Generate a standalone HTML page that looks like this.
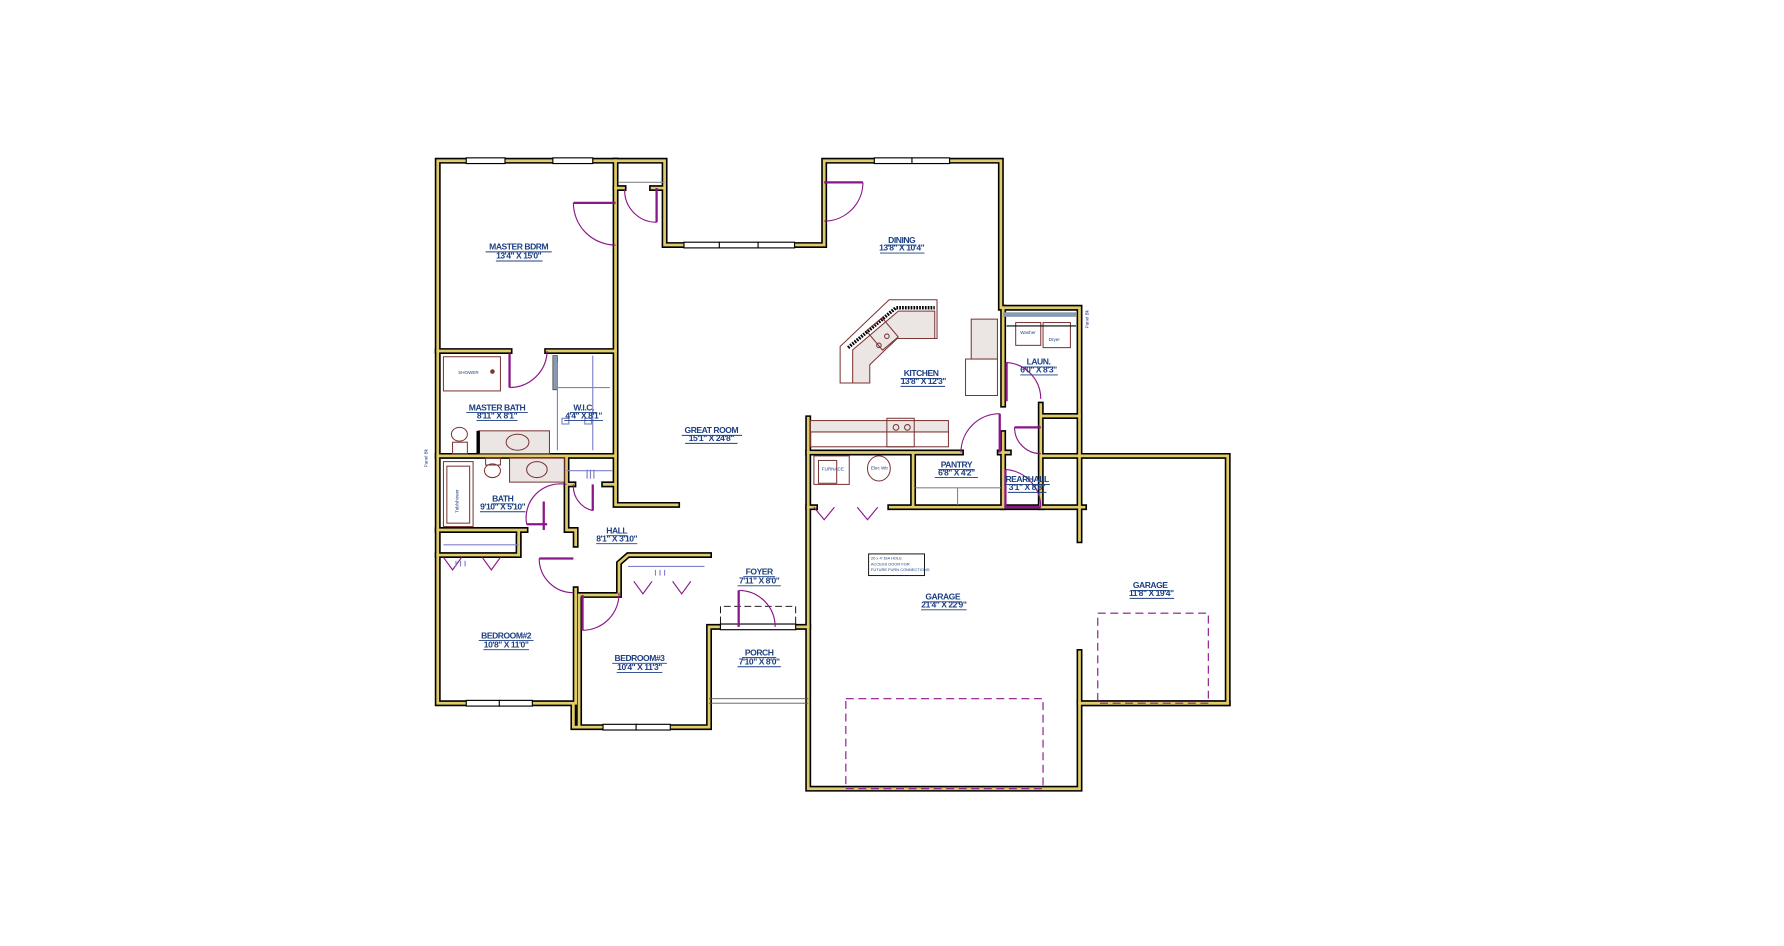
<!DOCTYPE html>
<html><head><meta charset="utf-8"><style>
html,body{margin:0;padding:0;background:#fff;}
svg{display:block;}
.w{fill:none;stroke:#000;stroke-width:5.2;stroke-linejoin:miter;stroke-linecap:square}
.y{fill:none;stroke:#e0cc6a;stroke-width:2.4;stroke-linejoin:miter;stroke-linecap:square}
.d{fill:none;stroke:#8a168a;stroke-width:1}
.dl{fill:none;stroke:#8a168a;stroke-width:2}
.f{fill:#ebe5e3;stroke:#7a3535;stroke-width:0.9}
.fo{fill:none;stroke:#7a3535;stroke-width:0.9}
.g{fill:none;stroke:#888;stroke-width:1}
.p{fill:none;stroke:#8080cc;stroke-width:1}
.t{font-family:"Liberation Sans",sans-serif;font-weight:bold;fill:#1c3f82;font-size:7.5px;text-anchor:middle;letter-spacing:-0.4px}
.s{font-family:"Liberation Sans",sans-serif;font-size:4px;fill:#1c3f82}
.u{stroke:#1c3f82;stroke-width:0.8}
.win{fill:#fff;stroke:#000;stroke-width:1}
</style></head><body>
<svg width="1784" height="946" viewBox="0 0 1565 830" preserveAspectRatio="none" xmlns="http://www.w3.org/2000/svg">
<rect width="1565" height="830" fill="#fff"/>
<g id="walls">
<path class="w" d="M540,141 H384 V617 H503 V638 H622 V550 H709"/>
<path class="w" d="M540,141 H583 V215 H723 V141 H878 V270 H947 V400 H1077 V617 H947 V692 H709 V367"/>
<path class="w" d="M540,141 V443 H594"/>
<path class="w" d="M540,165 H547 M572,165 H583"/>
<path class="w" d="M384,308 H447 M480,308 H540 M384,400 H540"/>
<path class="w" d="M497,400 V425 H503 M530,425 H540 M384,465 H461 M384,487 H455 V465"/>
<path class="w" d="M455,487 V472 M497,425 V465 H505 V478"/>
<path class="w" d="M505,517 V617 M508,522 V636 M508,522 H543 V494 L551,487 H622"/>
<path class="w" d="M709,397 H843 M877,397 H885 M801,397 V445 M709,445 H715 M781,445 H951"/>
<path class="w" d="M880,270 V355 M880,380 V445 M913,355 V365 H947 M913,365 V445 M913,400 H947"/>
<path class="w" d="M947,400 V474 M947,572 V617 M947,617 H1077"/>
<g>
<path class="y" d="M540,141 H384 V617 H503 V638 H622 V550 H709"/>
<path class="y" d="M540,141 H583 V215 H723 V141 H878 V270 H947 V400 H1077 V617 H947 V692 H709 V367"/>
<path class="y" d="M540,141 V443 H594"/>
<path class="y" d="M540,165 H547 M572,165 H583"/>
<path class="y" d="M384,308 H447 M480,308 H540 M384,400 H540"/>
<path class="y" d="M497,400 V425 H503 M530,425 H540 M384,465 H461 M384,487 H455 V465"/>
<path class="y" d="M455,487 V472 M497,425 V465 H505 V478"/>
<path class="y" d="M505,517 V617 M508,522 V636 M508,522 H543 V494 L551,487 H622"/>
<path class="y" d="M709,397 H843 M877,397 H885 M801,397 V445 M709,445 H715 M781,445 H951"/>
<path class="y" d="M880,270 V355 M880,380 V445 M913,355 V365 H947 M913,365 V445 M913,400 H947"/>
<path class="y" d="M947,400 V474 M947,572 V617 M947,617 H1077"/>
</g>
<rect x="485" y="312" width="4" height="30" fill="#8a9ab0" stroke="#333" stroke-width="0.6"/>
<rect x="880" y="274" width="64" height="4" fill="#8a9ab0"/>
</g>
<!-- windows -->
<rect class="win" x="409" y="138.5" width="34" height="5"/><rect class="win" x="485" y="138.5" width="35" height="5"/>
<rect class="win" x="767" y="138.5" width="66" height="5"/><line x1="800" y1="138" x2="800" y2="144" stroke="#000"/>
<rect class="win" x="600" y="212.5" width="97" height="5"/><line x1="631" y1="212" x2="631" y2="218" stroke="#000"/><line x1="665" y1="212" x2="665" y2="218" stroke="#000"/>
<rect class="win" x="409" y="614.5" width="58" height="5"/><line x1="438" y1="614" x2="438" y2="620" stroke="#000"/>
<rect class="win" x="529" y="635.5" width="59" height="5"/><line x1="558" y1="635" x2="558" y2="641" stroke="#000"/>
<rect class="win" x="632" y="547.5" width="66" height="5"/>
<path d="M632,547 V532 H698 V547" fill="none" stroke="#000" stroke-width="0.8" stroke-dasharray="6,3"/>
<!-- porch lines -->
<path d="M622,613 H709 M622,617 H709" stroke="#555" stroke-width="0.8"/>
<!-- closet shelf line -->
<path class="g" d="M543,160 H583"/>
<!-- doors -->
<path class="dl" d="M503,178 H540"/><path class="d" d="M503,178 A37,37 0 0 0 540,215"/>
<path class="dl" d="M576,165 V195"/><path class="d" d="M548,166 A28,28 0 0 0 576,195"/>
<path class="dl" d="M723,160 H757"/><path class="d" d="M757,160 A34,34 0 0 1 723,194"/>
<path class="dl" d="M447,310 V340"/><path class="d" d="M447,340 A33,33 0 0 0 480,308"/>
<path class="dl" d="M877,363 V397"/><path class="d" d="M843,397 A34,34 0 0 1 877,363"/>
<path class="dl" d="M883,318 V352"/><path class="d" d="M883,318 A32,32 0 0 1 913,350"/>
<path class="dl" d="M890,375 H913"/><path class="d" d="M890,375 A23,23 0 0 0 913,398"/>
<path class="dl" d="M882,412 V445 H913"/><path class="d" d="M882,412 A33,33 0 0 1 913,445"/>
<path class="dl" d="M477,440 V465"/><path class="d" d="M497,425 A30,30 0 0 0 462,460"/><path class="dl" d="M462,460 H480"/>
<path class="dl" d="M520,425 V448"/><path class="d" d="M503,425 A22,22 0 0 0 520,448"/>
<path class="dl" d="M473,490 H503"/><path class="d" d="M473,490 A30,30 0 0 0 503,520"/>
<path class="dl" d="M511,522 V553"/><path class="d" d="M511,553 A32,32 0 0 0 543,520"/>
<path class="dl" d="M648,518 V550"/><path class="d" d="M648,518 A32,32 0 0 1 680,550"/>
<!-- bifolds -->
<path class="d" d="M389,489 L397,500 L405,489 M423,489 L431,500 L439,489"/>
<path class="d" d="M556,510 L564,521 L572,510 M590,510 L598,521 L606,510"/>
<path class="d" d="M714,445 L723,456 L732,445 M752,445 L761,456 L770,445"/>
<path class="p" d="M389,478 H455 M551,497 H618 M497,413 H537 M489,340 H535 M489,318 V395 M520,312 V395"/>
<path class="p" d="M515,412 V420 M518,412 V420 M521,412 V420 M400,492 V497 M404,492 V497 M408,492 V497 M575,500 V505 M579,500 V505 M583,500 V505"/>
<!-- garage doors -->
<rect x="742" y="613" width="173" height="79" fill="none" stroke="#8a168a" stroke-width="1" stroke-dasharray="7,4"/>
<rect x="963" y="538" width="97" height="79" fill="none" stroke="#8a168a" stroke-width="1" stroke-dasharray="7,4"/>
<!-- kitchen -->
<path class="fo" d="M737,304 L780,263 H822 V297 H787 L760,322 V336 H737 Z"/>
<path d="M744,305 L786,270 H820" fill="none" stroke="#000" stroke-width="3" stroke-dasharray="1.5,1"/>
<path class="f" d="M748,307 L788,273 H820 V297 H787 L763,320 V336 H748 Z"/>
<rect class="fo" x="765" y="282" width="18" height="22" transform="rotate(-40 774 293)"/>
<circle class="fo" cx="778" cy="295" r="2"/><circle class="fo" cx="771" cy="303" r="2"/>
<rect class="f" x="852" y="280" width="23" height="35"/><rect class="fo" x="847" y="315" width="28" height="32"/>
<rect class="f" x="711" y="369" width="121" height="10"/><rect class="fo" x="711" y="379" width="121" height="13"/>
<rect class="fo" x="778" y="367" width="24" height="25"/><circle class="fo" cx="786" cy="375" r="2.5"/><circle class="fo" cx="796" cy="375" r="2.5"/>
<!-- laundry -->
<rect class="fo" x="891" y="283" width="22" height="20"/><rect class="fo" x="915" y="283" width="24" height="22"/>
<text class="s" x="895" y="293">Washer</text><text class="s" x="920" y="299">Dryer</text>
<line x1="883" y1="286" x2="944" y2="286" stroke="#000" stroke-width="1"/>
<!-- pantry / furnace -->
<path class="g" d="M803,428 H878 M840,428 V443"/>
<rect class="fo" x="714" y="400" width="31" height="25"/><rect class="fo" x="718" y="404" width="16" height="20"/>
<text class="s" x="721" y="413">FURNACE</text>
<ellipse class="fo" cx="771" cy="411" rx="10" ry="11"/><text class="s" x="764" y="412">Elec Wtr</text>
<!-- bathrooms -->
<rect class="fo" x="389" y="313" width="50" height="30"/><text class="s" x="402" y="328">SHOWER</text><circle cx="432" cy="326" r="2" fill="#7a3535"/>
<ellipse class="fo" cx="403" cy="381" rx="7" ry="6"/><rect class="fo" x="397" y="388" width="13" height="10"/>
<rect class="f" x="420" y="378" width="62" height="20"/><ellipse class="fo" cx="454" cy="388" rx="10" ry="7"/>
<rect x="418" y="378" width="3" height="20" fill="#000"/>
<rect class="fo" x="389" y="405" width="26" height="57"/><rect class="fo" x="392" y="409" width="20" height="50"/>
<text class="s" x="0" y="0" transform="translate(402,450) rotate(-90)">Tub/shower</text>
<ellipse class="fo" cx="432" cy="413" rx="7" ry="6"/><rect class="fo" x="426" y="402" width="13" height="6"/>
<rect class="f" x="447" y="402" width="48" height="21"/><ellipse class="fo" cx="471" cy="412" rx="9" ry="7"/>
<rect class="p" x="493" y="367" width="6" height="5"/><rect class="p" x="513" y="367" width="6" height="5"/>
<!-- note box -->
<rect x="762" y="486" width="49" height="19" fill="#fff" stroke="#000" stroke-width="0.8"/>
<text class="s" x="764" y="491" style="font-size:3.5px">20 x 4' DIA HOLE</text>
<text class="s" x="764" y="496" style="font-size:3.5px">ACCESS DOOR FOR</text>
<text class="s" x="764" y="501" style="font-size:3.5px">FUTURE FURN CONNECTIONS</text>
<text class="s" transform="translate(375,410) rotate(-90)">Panel Bk</text>
<text class="s" transform="translate(955,288) rotate(-90)">Panel Bk</text>
<!-- labels -->
<g>
<text class="t" x="455" y="219">MASTER BDRM</text><text class="t" x="455" y="227">13'4" X 15'0"</text>
<text class="t" x="791" y="213">DINING</text><text class="t" x="791" y="220">13'8" X 10'4"</text>
<text class="t" x="808" y="330">KITCHEN</text><text class="t" x="810" y="337">13'8" X 12'3"</text>
<text class="t" x="911" y="320">LAUN.</text><text class="t" x="911" y="327">6'0" X 8'3"</text>
<text class="t" x="436" y="360">MASTER BATH</text><text class="t" x="436" y="367">8'11" X 8'1"</text>
<text class="t" x="512" y="360">W.I.C.</text><text class="t" x="512" y="367">4'4" X 8'1"</text>
<text class="t" x="624" y="380">GREAT ROOM</text><text class="t" x="624" y="387">15'1" X 24'8"</text>
<text class="t" x="839" y="410">PANTRY</text><text class="t" x="839" y="417">6'8" X 4'2"</text>
<text class="t" x="901" y="423">REARHALL</text><text class="t" x="901" y="430">3'1" X 8'8"</text>
<text class="t" x="441" y="440">BATH</text><text class="t" x="441" y="447">9'10" X 5'10"</text>
<text class="t" x="541" y="468">HALL</text><text class="t" x="541" y="475">8'1" X 3'10"</text>
<text class="t" x="666" y="504">FOYER</text><text class="t" x="666" y="512">7'11" X 8'0"</text>
<text class="t" x="827" y="526">GARAGE</text><text class="t" x="828" y="533">21'4" X 22'9"</text>
<text class="t" x="1009" y="516">GARAGE</text><text class="t" x="1010" y="523">11'8" X 19'4"</text>
<text class="t" x="444" y="560">BEDROOM#2</text><text class="t" x="444" y="568">10'8" X 11'0"</text>
<text class="t" x="561" y="580">BEDROOM#3</text><text class="t" x="561" y="588">10'4" X 11'3"</text>
<text class="t" x="666" y="575">PORCH</text><text class="t" x="666" y="583">7'10" X 8'0"</text>
</g>
<g class="u">
<path d="M426,221 H484 M435,229 H476 M778,215 H804 M772,222 H811 M790,332 H826 M790,339 H829 M898,322 H924 M895,329 H928 M409,362 H463 M418,369 H454 M500,362 H524 M495,369 H529 M598,382 H651 M601,389 H647 M823,412 H855 M820,419 H858 M881,425 H921 M884,432 H918 M431,442 H451 M421,449 H461 M532,470 H550 M523,477 H559 M652,506 H680 M647,514 H685 M810,528 H844 M808,535 H848 M993,518 H1025 M991,525 H1030 M420,562 H468 M424,570 H464 M537,582 H585 M541,590 H581 M651,577 H681 M647,585 H685"/>
</g>
</svg>
</body></html>
